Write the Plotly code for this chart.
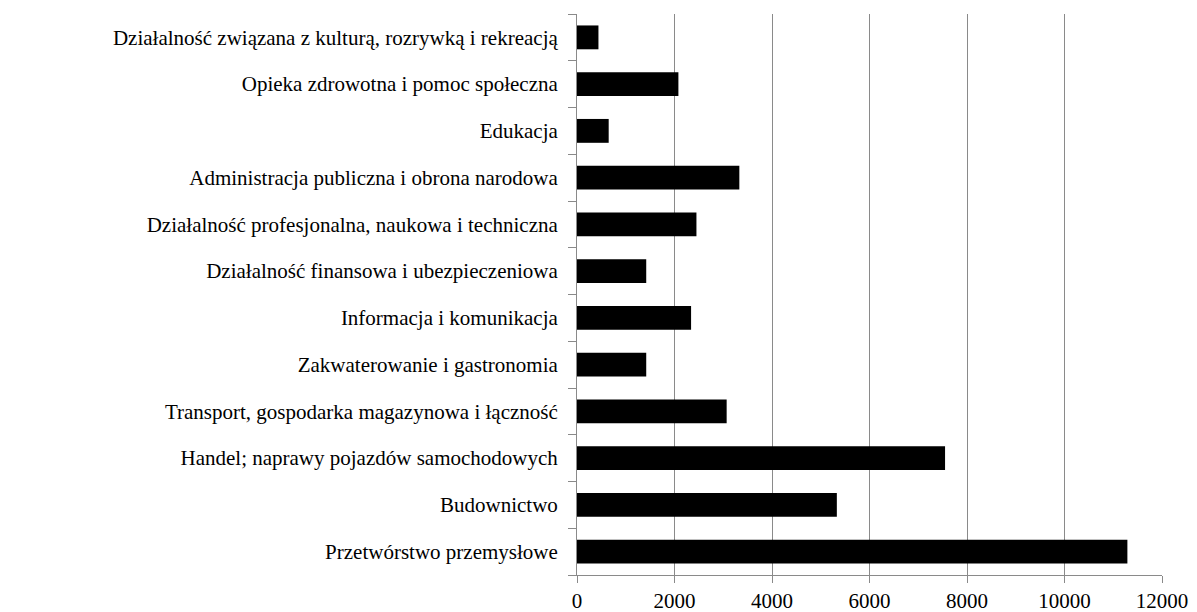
import plotly.graph_objects as go

categories = [
    "Przetwórstwo przemysłowe",
    "Budownictwo",
    "Handel; naprawy pojazdów samochodowych",
    "Transport, gospodarka magazynowa i łączność",
    "Zakwaterowanie i gastronomia",
    "Informacja i komunikacja",
    "Działalność finansowa i ubezpieczeniowa",
    "Działalność profesjonalna, naukowa i techniczna",
    "Administracja publiczna i obrona narodowa",
    "Edukacja",
    "Opieka zdrowotna i pomoc społeczna",
    "Działalność związana z kulturą, rozrywką i rekreacją",
]
values = [11290, 5330, 7550, 3070, 1420, 2340, 1420, 2450, 3330, 650, 2080, 440]
x_ticks = [0, 2000, 4000, 6000, 8000, 10000, 12000]

grey = "#8a8a8a"
font_family = "Liberation Serif, Times New Roman, serif"

fig = go.Figure(
    go.Bar(
        x=values,
        y=categories,
        orientation="h",
        marker=dict(color="#000000", line=dict(width=0)),
    )
)

# page body has an 8px margin, so the figure is sized to the remaining area
fig.update_layout(
    width=1189,
    height=604,
    margin=dict(l=569, r=35, t=6, b=37, autoexpand=False),
    paper_bgcolor="white",
    plot_bgcolor="white",
    bargap=0.49,
    showlegend=False,
    font=dict(family=font_family, size=21, color="#000000"),
)

fig.update_xaxes(
    range=[0, 12000],
    tickvals=x_ticks,
    ticktext=[str(v) for v in x_ticks],
    showgrid=True,
    gridcolor=grey,
    gridwidth=1,
    showline=True,
    linecolor=grey,
    linewidth=1,
    ticks="outside",
    ticklen=7,
    tickcolor=grey,
    zeroline=False,
    ticklabelstandoff=0,
    tickfont=dict(family=font_family, size=21, color="#000000"),
)

fig.update_yaxes(
    showgrid=False,
    showline=True,
    linecolor=grey,
    linewidth=1,
    ticks="outside",
    tickson="boundaries",
    ticklen=8,
    tickcolor=grey,
    ticklabelstandoff=14,
    tickfont=dict(family=font_family, size=21, color="#000000"),
)

fig.write_html("out.html")
